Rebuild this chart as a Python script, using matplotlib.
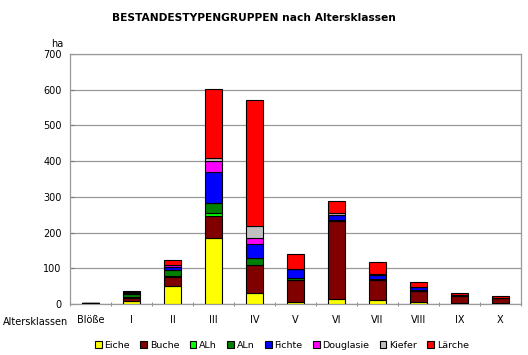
import numpy as np
import matplotlib
matplotlib.use('Agg')
import matplotlib.pyplot as plt

klassen = ['Blöße', 'I', 'II', 'III', 'IV', 'V', 'VI', 'VII', 'VIII', 'IX', 'X']

eiche     = [2, 8, 50, 185, 32, 6, 14, 11, 5, 4, 4]
buche     = [0, 10, 25, 61, 78, 61, 217, 55, 32, 17, 12]
alh       = [0, 1, 2, 9, 0, 0, 0, 0, 0, 0, 0]
aln       = [0, 10, 19, 29, 20, 5, 4, 3, 3, 1, 0]
fichte    = [0, 2, 8, 85, 38, 26, 15, 11, 7, 2, 2]
douglasie = [0, 2, 4, 32, 18, 0, 0, 0, 0, 0, 0]
kiefer    = [0, 0, 1, 9, 32, 0, 4, 3, 1, 0, 0]
laerche   = [0, 2, 13, 191, 352, 43, 33, 34, 14, 6, 3]

serien = ['Eiche', 'Buche', 'ALh', 'ALn', 'Fichte', 'Douglasie', 'Kiefer', 'Lärche']
werte = [eiche, buche, alh, aln, fichte, douglasie, kiefer, laerche]
farben = ['#FFFF00', '#800000', '#00FF00', '#008000', '#0000FF', '#FF00FF', '#C0C0C0', '#FF0000']

plt.rcParams['font.family'] = ['DejaVu Sans']

fig = plt.figure(figsize=(5.28, 3.55), dpi=100)
ax = fig.add_axes([0.1326, 0.1437, 0.8541, 0.7042])

x = np.arange(len(klassen))
bottom = np.zeros(len(klassen))
for name, vals, col in zip(serien, werte, farben):
    ax.bar(x, vals, width=0.4, bottom=bottom, color=col, edgecolor='black',
           linewidth=0.8, label=name, zorder=3)
    bottom += np.array(vals)

ax.set_xlim(-0.5, len(klassen) - 0.5)
ax.set_ylim(0, 700)
ax.set_yticks(range(0, 701, 100))
ax.yaxis.grid(True, color='#999999', linewidth=0.9, zorder=0)
for s in ax.spines.values():
    s.set_color('#999999')
    s.set_linewidth(0.9)

ax.set_xticks(x)
ax.set_xticklabels(klassen, fontsize=7)
ax.set_xticks(np.arange(-0.5, len(klassen)), minor=True)
ax.tick_params(axis='x', which='major', length=0, pad=8)
ax.tick_params(axis='x', which='minor', length=3, direction='inout', color='#777777')
ax.tick_params(axis='y', labelsize=7, length=3, direction='in', color='#777777', pad=6)

fig.text(0.48, 0.95, 'BESTANDESTYPENGRUPPEN nach Altersklassen', ha='center',
         va='center', fontsize=7.7, fontweight='bold')
fig.text(0.108, 0.876, 'ha', ha='center', va='center', fontsize=7)
fig.text(0.005, 0.093, 'Altersklassen', ha='left', va='center', fontsize=7)

leg = ax.legend(loc='center', bbox_to_anchor=(0.47, -0.165), ncol=8,
                frameon=False, fontsize=6.8, handlelength=0.7, handleheight=0.7,
                handletextpad=0.3, columnspacing=1.1)

plt.savefig('out.png', dpi=100)
